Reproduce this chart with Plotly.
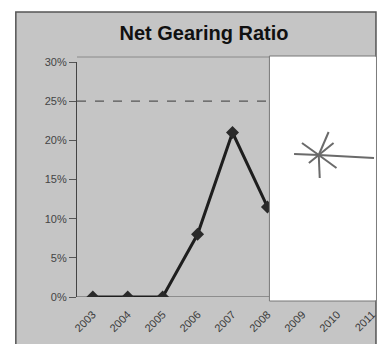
import plotly.graph_objects as go

# Net gearing ratio by year (%)
years = ["2003", "2004", "2005", "2006", "2007", "2008", "2009", "2010", "2011"]
gearing = [0, 0, 0, 8, 21, 11.5, None, None, None]
target_level = 25
y_ticks = [0, 5, 10, 15, 20, 25, 30]
y_tick_text = [f"{v}%" for v in y_ticks]

W, H = 378, 344
PL, PR, PT, PB = 77, 378, 62, 297  # plot box in pixels


def px(x):
    return (x - PL) / (PR - PL)


def py(y):
    return (PB - y) / (PB - PT)


GRAY = "#c5c5c5"
FONT = "Liberation Sans, Arial"
fig = go.Figure()

fig.add_trace(go.Scatter(
    x=years, y=gearing, mode="lines+markers",
    line=dict(color="#1e1e1e", width=3),
    marker=dict(symbol="diamond", size=10, color="#2a2a2a"),
    connectgaps=False, showlegend=False, hoverinfo="skip",
))

shapes = []
# grey chart frame
shapes.append(dict(type="rect", xref="paper", yref="paper", layer="below",
                   x0=px(15), x1=px(380), y0=py(12), y1=py(346),
                   fillcolor=GRAY, line=dict(color="#555555", width=1.5)))
# plot box top edge
shapes.append(dict(type="line", xref="paper", yref="paper", layer="below",
                   x0=px(77), x1=px(378), y0=py(57), y1=py(57),
                   line=dict(color="#8a8a8a", width=1)))
# target line
shapes.append(dict(type="line", xref="paper", yref="y", layer="below",
                   x0=0, x1=1, y0=target_level, y1=target_level,
                   line=dict(color="#555555", width=1.2, dash="dash")))
# x axis baseline
shapes.append(dict(type="line", xref="paper", yref="y", layer="below",
                   x0=0, x1=1, y0=0, y1=0, line=dict(color="#555555", width=1)))
# white patch over the right side
shapes.append(dict(type="rect", xref="paper", yref="paper", layer="above",
                   x0=px(272), x1=px(380), y0=py(56), y1=py(301),
                   fillcolor="white", line=dict(color="#777777", width=1)))
shapes.append(dict(type="rect", xref="paper", yref="paper", layer="above",
                   x0=px(273), x1=px(380), y0=py(57), y1=py(300),
                   fillcolor="white", line=dict(width=0)))
# hand-drawn star
cx, cy = 322, 155
for ex, ey in [(378, 158), (297, 154), (332, 132), (305, 143), (323, 178),
               (340, 168), (312, 163), (337, 143)]:
    shapes.append(dict(type="line", xref="paper", yref="paper", layer="above",
                       x0=px(cx), y0=py(cy), x1=px(ex), y1=py(ey),
                       line=dict(color="#6a6a6a", width=2)))

fig.update_layout(
    width=W, height=H,
    margin=dict(l=PL, r=W - PR, t=PT, b=H - PB),
    paper_bgcolor="white", plot_bgcolor="rgba(0,0,0,0)",
    shapes=shapes,
    title=dict(text="<b>Net Gearing Ratio</b>", x=204 / W, xanchor="center",
               y=1 - 33 / H, yanchor="middle",
               font=dict(family=FONT, size=20, color="#111111")),
    xaxis=dict(type="category", range=[-0.452, 8.05], showgrid=False,
               zeroline=False, showline=False, ticks="", tickangle=-45,
               ticklabelstandoff=8,
               tickfont=dict(family=FONT, size=11, color="#3a3a3a")),
    yaxis=dict(range=[0, 30], tickvals=y_ticks, ticktext=y_tick_text, showgrid=False,
               zeroline=False, showline=True, linecolor="#444444", linewidth=1.2,
               ticks="outside", ticklen=7, tickcolor="#555555",
               tickfont=dict(family=FONT, size=11, color="#444444")),
)

fig.write_html("out.html")
